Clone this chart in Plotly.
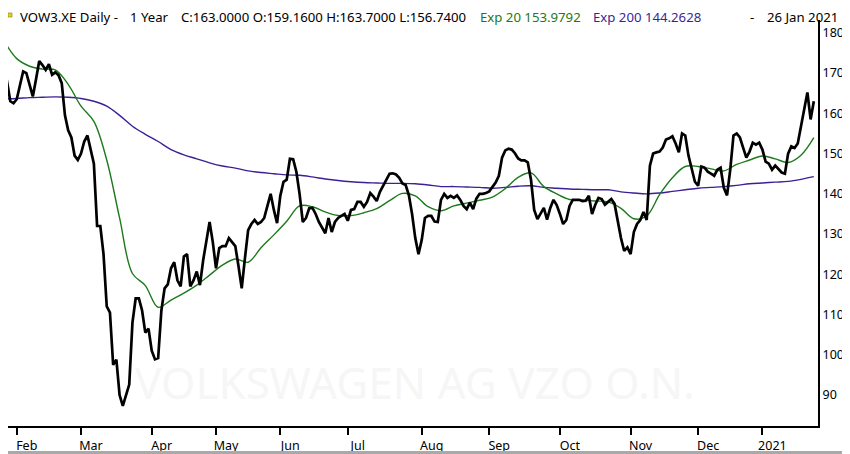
# Recreates the VOW3.XE daily one-year chart with its two exponential averages.

import pandas as pandas
import plotly.graph_objects as graphObjects

# Xetra trading days from 28 Jan 2020 to 26 Jan 2021, exchange holidays dropped.
firstDay = "2020-01-28"
lastDay = "2021-01-26"
holidays = ["2020-04-10", "2020-04-13", "2020-05-01", "2020-06-01",
            "2020-12-24", "2020-12-25", "2020-12-31", "2021-01-01"]

# Daily closes, one line per month.
closePrices = [
    172.5, 168.0, 163.0, 162.5,                                            # Jan
    163.5, 167.0, 170.4, 170.0, 167.0, 164.2, 168.5, 173.0, 172.0, 170.8,
    172.2, 169.6, 170.2, 169.5, 167.5, 159.5, 155.8, 154.0, 149.5, 148.4,  # Feb
    150.0, 153.0, 154.5, 151.0, 147.5, 132.0, 132.0, 125.0, 112.0, 110.5,
    97.5, 98.8, 90.0, 87.3, 90.0, 92.6, 108.0, 114.0, 114.0, 111.0,
    105.5, 106.5,                                                          # Mar
    101.0, 98.9, 99.2, 111.0, 116.5, 117.5, 121.5, 123.0, 118.5, 117.0,
    124.4, 125.0, 117.0, 118.5, 120.7, 117.3, 123.5, 128.0, 133.0, 128.0,  # Apr
    121.5, 126.5, 127.0, 127.0, 129.0, 128.0, 127.0, 122.0, 116.5, 124.0,
    131.0, 132.5, 133.5, 132.5, 133.0, 134.0, 137.0, 140.0, 136.0, 132.7,  # May
    139.5, 143.0, 143.5, 148.7, 148.6, 145.5, 140.0, 133.0, 134.0, 136.4,
    136.5, 135.0, 133.0, 131.4, 130.2, 134.0, 130.5, 133.0, 134.0, 134.5,
    135.0,                                                                 # Jun
    133.3, 136.0, 136.2, 138.0, 138.0, 136.8, 138.0, 140.2, 139.3, 138.2,
    140.5, 142.0, 143.5, 145.0, 145.1, 144.8, 144.0, 142.6, 142.2, 139.7,
    135.0, 129.0, 125.0,                                                   # Jul
    128.5, 134.0, 134.5, 134.5, 133.1, 133.0, 138.5, 140.0, 139.0, 139.5,
    139.0, 139.6, 138.5, 137.0, 136.2, 137.8, 136.2, 138.8, 140.0, 140.0,
    140.2,                                                                 # Aug
    140.6, 141.8, 142.8, 144.5, 149.0, 150.8, 151.2, 151.0, 150.1, 148.8,
    148.3, 148.3, 147.8, 143.5, 136.0, 133.7, 135.0, 136.5, 133.6, 136.5,
    138.5, 137.2,                                                          # Sep
    135.0, 132.5, 133.5, 137.0, 138.5, 138.5, 138.5, 138.2, 138.3, 139.5,
    135.0, 137.3, 139.0, 138.7, 137.3, 138.0, 138.7, 137.5, 133.0, 129.0,
    125.8, 126.7,                                                          # Oct
    125.0, 130.5, 132.5, 133.5, 135.5, 133.5, 147.0, 150.0, 150.3, 150.5,
    151.5, 153.5, 153.8, 154.3, 152.5, 150.3, 155.0, 154.5, 149.5, 146.0,
    143.0,                                                                 # Nov
    142.0, 146.8, 146.5, 145.5, 145.0, 144.5, 146.0, 146.5, 141.5, 139.6,
    146.0, 154.5, 155.0, 154.0, 151.5, 149.0, 150.5, 152.7, 152.2, 152.7,  # Dec
    151.0, 148.0, 147.5, 146.0, 147.0, 146.2, 145.3, 145.0, 150.0, 151.8,
    151.4, 152.5, 157.0, 161.5, 165.2, 158.5, 163.0,                       # Jan
]

# Exp 20 and Exp 200, read every fourth trading day.
emaStep = 4
exp20 = [
    178.1, 173.6, 171.7, 171.0, 170.8, 167.2, 161.8, 158.0, 148.4, 134.0,
    120.2, 117.2, 111.8, 113.6, 115.3, 117.3, 119.8, 122.3, 123.8, 123.0,
    126.6, 129.8, 133.2, 137.0, 136.8, 135.5, 134.6, 134.6, 135.3, 136.3,
    138.3, 140.1, 139.5, 136.8, 135.8, 137.0, 137.7, 138.4, 139.2, 141.3,
    144.1, 145.2, 141.8, 140.0, 138.6, 138.4, 138.2, 138.0, 136.4, 133.8,
    134.5, 139.8, 144.0, 146.8, 146.8, 146.2, 145.7, 147.3, 148.4, 149.4,
    148.7, 147.8, 149.6, 153.98,
]
exp200 = [
    163.6, 163.7, 163.9, 164.0, 164.1, 164.0, 163.7, 163.0, 161.8, 159.5,
    156.8, 154.8, 153.0, 151.0, 149.7, 148.7, 147.7, 146.9, 146.4, 145.7,
    145.3, 145.0, 144.7, 144.6, 144.2, 143.7, 143.3, 143.0, 142.8, 142.7,
    142.6, 142.6, 142.5, 142.2, 141.8, 141.8, 141.7, 141.6, 141.4, 141.6,
    141.9, 142.0, 141.6, 141.4, 141.2, 141.1, 141.0, 141.0, 140.5, 140.2,
    140.0, 140.2, 140.6, 141.0, 141.4, 141.6, 141.8, 142.1, 142.5, 142.7,
    142.9, 143.1, 143.6, 144.26,
]

monthLabels = ["Feb", "Mar", "Apr", "May", "Jun", "Jul", "Aug",
               "Sep", "Oct", "Nov", "Dec", "2021"]
priceTicks = [90, 100, 110, 120, 130, 140, 150, 160, 170, 180]

# Build the category list of trading dates.
dates = []
for day in pandas.bdate_range(firstDay, lastDay):
    dayText = day.strftime("%Y-%m-%d")
    if dayText not in holidays:
        dates.append(dayText)

assert len(dates) == len(closePrices), (len(dates), len(closePrices))
emaDates = dates[::emaStep]
assert len(emaDates) == len(exp20) == len(exp200)

# First trading day of each month gets a tick (January 2020 is skipped).
monthStarts = []
prevMonth = dates[0][:7]
for dayText in dates:
    if dayText[:7] != prevMonth:
        monthStarts.append(dayText)
        prevMonth = dayText[:7]

fontName = "Noto Sans"
greenColour = "#1c7a1c"
purpleColour = "#3d1f96"

fig = graphObjects.Figure()
fig.add_trace(graphObjects.Scatter(
    x = emaDates, y = exp200, mode = "lines",
    line = dict(color = purpleColour, width = 1.4, shape = "spline"),
    hoverinfo = "skip"))
fig.add_trace(graphObjects.Scatter(
    x = emaDates, y = exp20, mode = "lines",
    line = dict(color = greenColour, width = 1.4, shape = "spline"),
    hoverinfo = "skip"))
fig.add_trace(graphObjects.Scatter(
    x = dates, y = closePrices, mode = "lines",
    line = dict(color = "black", width = 2.7),
    hoverinfo = "skip"))

# The page body has an 8px margin, so the figure sits 8px right and down
# in the window.  Plot area in window pixels: left 8, right 818, top 20, bottom 426.
bodyGap = 8
plotW, plotH = 810, 406
def px(xPixel):
    return (xPixel - 8) / plotW
def py(yPixel):
    return (426 - yPixel) / plotH

# header sits a touch low so its text box stays inside the page
headerY = py(16.5)
headerBits = [
    ("VOW3.XE Daily -", 19, "black", "left"),
    ("1 Year", 129, "black", "left"),
    ("C:163.0000 O:159.1600 H:163.7000 L:156.7400", 180, "black", "left"),
    ("Exp 20 153.9792", 479, greenColour, "left"),
    ("Exp 200 144.2628", 592, purpleColour, "left"),
    ("-", 749, "black", "left"),
    ("26 Jan 2021", 839, "black", "right"),
]
annotations = []
for text, xPixel, colour, anchor in headerBits:
    annotations.append(dict(
        text = text, xref = "paper", yref = "paper",
        x = px(xPixel), y = headerY, xanchor = anchor, yanchor = "middle",
        borderpad = 0,
        showarrow = False, font = dict(family = fontName, size = 13.2, color = colour)))

shapes = [
    # faint watermark behind the lines
    dict(type = "rect", xref = "paper", yref = "paper", layer = "below",
         x0 = px(110), x1 = px(720), y0 = py(405), y1 = py(365),
         line = dict(width = 0),
         label = dict(text = "VOLKSWAGEN AG VZO O.N.", textposition = "middle center",
                      font = dict(family = fontName, size = 44, color = "#f6f6f6"))),
    # grey window frame
    dict(type = "rect", xref = "paper", yref = "paper",
         x0 = px(1), x1 = px(848.5), y0 = py(452.5), y1 = py(1),
         line = dict(color = "#a9a9a9", width = 3)),
    # little yellow flag in the corner
    dict(type = "rect", xref = "paper", yref = "paper",
         x0 = px(8), x1 = px(12), y0 = py(17), y1 = py(13),
         fillcolor = "#e6d21c", line = dict(color = "#8a7a10", width = 0.6)),
]

fig.update_layout(
    width = 850 - bodyGap, height = 454 - bodyGap,
    margin = dict(l = 0, r = 32, t = 12, b = 28, autoexpand = False),
    paper_bgcolor = "white", plot_bgcolor = "rgba(0,0,0,0)",
    showlegend = False,
    font = dict(family = fontName, size = 12.5, color = "black"),
    annotations = annotations,
    shapes = shapes,
)
fig.update_xaxes(
    type = "category", categoryarray = dates, range = [1.28, 253.3],
    tickvals = monthStarts, ticktext = monthLabels,
    ticks = "outside", ticklen = 7, tickwidth = 2, tickcolor = "black",
    ticklabelshift = 10, automargin = False,
    showline = True, linewidth = 2, linecolor = "black",
    showgrid = False, zeroline = False,
    tickfont = dict(family = fontName, size = 12.5, color = "black"))
fig.update_yaxes(
    side = "right", range = [82.3, 183.2],
    tickvals = priceTicks, ticks = "", automargin = False,
    showline = True, linewidth = 2, linecolor = "black",
    showgrid = False, zeroline = False,
    tickfont = dict(family = fontName, size = 12.5, color = "black"))

fig.write_html("out.html")
